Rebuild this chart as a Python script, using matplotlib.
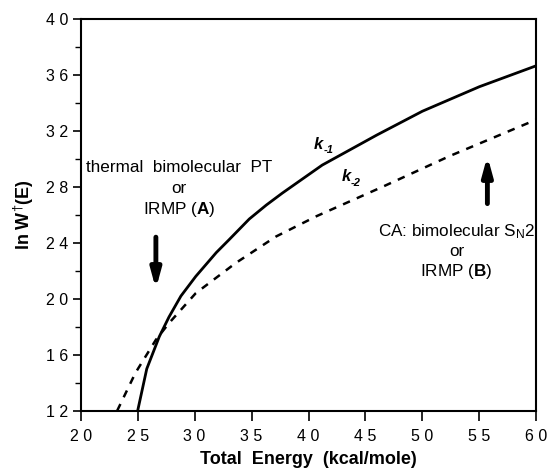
import matplotlib
matplotlib.use("Agg")
import matplotlib.pyplot as plt
from matplotlib.ticker import MultipleLocator

plt.rcParams['font.family'] = ['Liberation Sans', 'DejaVu Sans']
plt.rcParams['mathtext.fontset'] = 'custom'
plt.rcParams['mathtext.rm'] = 'Liberation Sans'
plt.rcParams['mathtext.bf'] = 'Liberation Sans:bold'
plt.rcParams['mathtext.it'] = 'Liberation Sans:italic'

# k-1 (solid)
k1_E = [25.0, 25.8, 26.9, 27.75, 28.8, 30.1, 31.9, 33.0, 34.8, 36.3, 37.7, 41.2, 46.0, 50.0, 55.0, 60.0]
k1_W = [12.0, 15.0, 17.3, 18.7, 20.2, 21.6, 23.3, 24.2, 25.7, 26.7, 27.55, 29.55, 31.7, 33.4, 35.15, 36.65]
# k-2 (dashed)
k2_E = [23.2, 24.8, 26.6, 27.75, 30.1, 33.6, 37.15, 40.7, 46.5, 52.4, 60.0]
k2_W = [12.0, 14.7, 17.07, 18.26, 20.4, 22.55, 24.45, 25.9, 28.0, 30.2, 32.8]

x_ticks = [20, 25, 30, 35, 40, 45, 50, 55, 60]
y_ticks = [12, 16, 20, 24, 28, 32, 36, 40]

fig = plt.figure(figsize=(5.49, 4.70), dpi=100)
ax = fig.add_axes([0.147, 0.126, 0.830, 0.834])

ax.plot(k1_E, k1_W, color="black", lw=2.0, solid_joinstyle="round")
ax.plot(k2_E, k2_W, color="black", lw=1.8, dashes=(3, 3))

ax.set_xlim(20, 60)
ax.set_ylim(12, 40)
ax.set_xticks(x_ticks)
ax.set_yticks(y_ticks)
ax.yaxis.set_minor_locator(MultipleLocator(2))
sp = " "
ax.set_xticklabels([sp.join(str(t)) for t in x_ticks], fontsize=11.5)
ax.set_yticklabels([sp.join(str(t)) for t in y_ticks], fontsize=11.5)
ax.tick_params(axis="x", which="major", direction="out", length=7, width=1.2, pad=6)
ax.tick_params(axis="y", which="major", direction="out", length=6, width=1.2, pad=3)
ax.tick_params(axis="y", which="minor", direction="out", length=4, width=1.0)
for s in ax.spines.values():
    s.set_linewidth(1.5)

ax.set_xlabel("Total  Energy  (kcal/mole)", fontsize=13, fontweight="bold", labelpad=5)
ax.set_ylabel("ln W$^{\u2020}$(E)", fontsize=13, fontweight="bold", labelpad=7)

def klabel(x, y, sub):
    ax.text(x, y, "k", fontsize=12, fontweight="bold", fontstyle="italic", ha="center", va="center")
    ax.annotate(sub, xy=(x, y), xytext=(3.5, -4), textcoords="offset points",
                fontsize=8, fontweight="bold", fontstyle="italic", ha="left", va="center")

klabel(40.9, 31.0, "-1")
klabel(43.3, 28.7, "-2")

fs = 12.3
ax.text(28.6, 29.35, "thermal  bimolecular  PT", fontsize=fs, ha="center", va="center")
ax.text(28.6, 27.85, "or", fontsize=fs, ha="center", va="center")
ax.text(28.6, 26.35, r"IRMP ($\mathbf{A}$)", fontsize=fs, ha="center", va="center")

ax.text(53.0, 24.8, r"CA: bimolecular S$_{\rm N}$2", fontsize=fs, ha="center", va="center")
ax.text(53.0, 23.4, "or", fontsize=fs, ha="center", va="center")
ax.text(53.0, 21.95, r"IRMP ($\mathbf{B}$)", fontsize=fs, ha="center", va="center")

ax.annotate("", xy=(26.6, 20.5), xytext=(26.6, 24.6),
            arrowprops=dict(arrowstyle="-|>,head_length=1.1,head_width=0.3", lw=3.5, color="black"))
ax.annotate("", xy=(55.7, 30.4), xytext=(55.7, 26.6),
            arrowprops=dict(arrowstyle="-|>,head_length=1.1,head_width=0.3", lw=3.5, color="black"))

fig.savefig("out.png", dpi=100)
